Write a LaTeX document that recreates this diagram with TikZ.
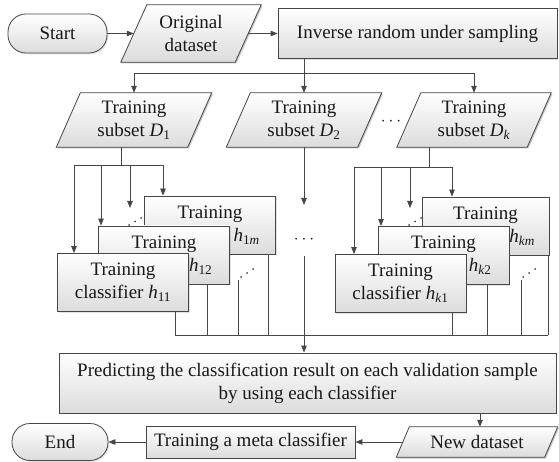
\documentclass[tikz,border=0pt]{standalone}
\usepackage{fontspec}
\setmainfont{Liberation Serif}
\usetikzlibrary{arrows.meta,calc,shadows}
\pgfdeclarelayer{bg}
\pgfsetlayers{bg,main}
\definecolor{lc}{RGB}{70,70,70}
\definecolor{fb}{RGB}{220,220,220}
\newcommand{\paral}[2]{%
  \begin{pgfonlayer}{bg}
  \fill[black,opacity=0.22] ([xshift=#2/2+1.3pt,yshift=-1.3pt]#1.north west) -- ([xshift=#2/2+1.3pt,yshift=-1.3pt]#1.north east) -- ([xshift=-#2/2+1.3pt,yshift=-1.3pt]#1.south east) -- ([xshift=-#2/2+1.3pt,yshift=-1.3pt]#1.south west) -- cycle;
  \shadedraw[top color=white,bottom color=fb,draw=lc,line width=0.8pt] ([xshift=#2/2]#1.north west) -- ([xshift=#2/2]#1.north east) -- ([xshift=-#2/2]#1.south east) -- ([xshift=-#2/2]#1.south west) -- cycle;
  \end{pgfonlayer}}
\begin{document}
\begin{tikzpicture}[x=1pt,y=-1pt,
  base/.style={font=\fontsize{19}{23}\selectfont, align=center, inner sep=0pt, text=black!90},
  box/.style={base, draw=lc, line width=0.8pt, top color=white, bottom color=fb,
     drop shadow={shadow xshift=1.3pt, shadow yshift=-1.3pt, opacity=0.22}},
  term/.style={box, rounded corners=18pt},
  para/.style={base},
  cls/.style={box, minimum width=131pt, minimum height=58pt},
  ln/.style={draw=lc, line width=0.8pt},
  arr/.style={ln, -{Triangle[length=7pt,width=5.5pt]}}]
\useasboundingbox (0,0) rectangle (559,462);

% top row
\node[term, minimum width=99pt, minimum height=39pt] (start) at (57.5,33.5) {Start};
\node[para, minimum width=114pt, minimum height=57pt] (orig) at (191,33.5) {Original\\dataset};
\node[box, minimum width=279pt, minimum height=50pt] (irus) at (417.5,33.5) {Inverse random under sampling};
\paral{orig}{26}

% subsets
\node[para, minimum width=131pt, minimum height=54pt] (d1) at (134,120) {Training\\subset \textit{D}\textsubscript{1}};
\node[para, minimum width=131pt, minimum height=54pt] (d2) at (304,120) {Training\\subset \textit{D}\textsubscript{2}};
\node[para, minimum width=130pt, minimum height=54pt] (dk) at (474,120) {Training\\subset \textit{D}\textsubscript{\textit{k}}};
\paral{d1}{24}
\paral{d2}{24}
\paral{dk}{24}
\node[base] (ddots) at (391,122) {$\cdots$};

% classifiers group 1 (back ones show only their visible text)
\node[cls] (h1m) at (210,225) {Training\\\phantom{classifier }\textit{h}\textsubscript{1\textit{m}}};
\node[cls] (h12) at (164,255) {Training\\\phantom{classifier }\textit{h}\textsubscript{12}};
\node[cls] (h11) at (123,282.5) {Training\\classifier \textit{h}\textsubscript{11}};
% classifiers group k
\node[cls, minimum width=127pt] (hkm) at (485.5,226) {Training\\\phantom{classifier }\textit{h}\textsubscript{\textit{km}}};
\node[cls] (hk2) at (443.5,255.5) {Training\\\phantom{classifier }\textit{h}\textsubscript{\textit{k}2}};
\node[cls] (hk1) at (400.5,283.5) {Training\\classifier \textit{h}\textsubscript{\textit{k}1}};

% bottom
\node[box, minimum width=497pt, minimum height=60pt] (pred) at (307.5,383) {Predicting the classification result on each validation sample\\by using each classifier};
\node[term, minimum width=96pt, minimum height=37pt] (end) at (60,442) {End};
\node[box, minimum width=209pt, minimum height=32pt] (meta) at (250.5,442) {Training a meta classifier};
\node[para, minimum width=148pt, minimum height=30pt] (nd) at (477,442) {New dataset};
\paral{nd}{13}

% connectors top
\draw[arr] (start) -- (orig);
\draw[arr] (orig) -- (irus);
\coordinate (br) at (0,73);
\draw[arr] (irus.south -| d2.north) -- (d2.north);
\draw[ln] (d1.north |- br) -- (dk.north |- br);
\draw[arr] (d1.north |- br) -- (d1.north);
\draw[arr] (dk.north |- br) -- (dk.north);

% group 1 fan-out
\coordinate (b1) at (121,165);
\coordinate (a11) at (74,165);
\coordinate (a12) at (101,165);
\coordinate (a13) at (130,165);
\coordinate (a1m) at (163,165);
\coordinate (e13) at (130,208);
\draw[ln] (b1 |- d1.south) -- (b1);
\draw[ln] (a11) -- (a1m);
\draw[arr] (a11) -- (a11 |- h11.north);
\draw[arr] (a12) -- (a12 |- h12.north);
\draw[arr] (a13) -- (e13);
\draw[arr] (a1m) -- (a1m |- h1m.north);
\fill[lc] (129,225) circle (1pt) (135,221.5) circle (1pt) (141,218) circle (1pt);
\fill[lc] (241,277) circle (1pt) (247,273) circle (1pt) (253,269) circle (1pt);

% group k fan-out
\coordinate (bk) at (429,167);
\coordinate (ak1) at (354,167);
\coordinate (ak2) at (381,167);
\coordinate (ak3) at (410,167);
\coordinate (akm) at (452,167);
\coordinate (ek3) at (410,208);
\draw[ln] (bk |- dk.south) -- (bk);
\draw[ln] (ak1) -- (akm);
\draw[arr] (ak1) -- (ak1 |- hk1.north);
\draw[arr] (ak2) -- (ak2 |- hk2.north);
\draw[arr] (ak3) -- (ek3);
\draw[arr] (akm) -- (akm |- hkm.north);
\fill[lc] (409,225) circle (1pt) (415,221.5) circle (1pt) (421,218) circle (1pt);
\fill[lc] (523,277) circle (1pt) (529,273) circle (1pt) (535,269) circle (1pt);

% D2 path
\coordinate (e2) at (304,205);
\node[base] (d2dots) at (304,240) {$\cdots$};
\coordinate (s2) at (304,256);
\draw[arr] (d2.south) -- (e2);
\draw[arr] (s2) -- (s2 |- pred.north);

% fan-in
\coordinate (c11) at (175,335);
\coordinate (c12) at (207,335);
\coordinate (c13) at (238,335);
\coordinate (c1m) at (268,335);
\coordinate (s13) at (238,280);
\coordinate (ck1) at (452,335);
\coordinate (ck2) at (487,335);
\coordinate (ck3) at (521,335);
\coordinate (ckm) at (548,335);
\coordinate (sk3) at (521,280);
\draw[ln] (c11 |- h11.south) -- (c11);
\draw[ln] (c12 |- h12.south) -- (c12);
\draw[ln] (s13) -- (c13);
\draw[ln] (c1m |- h1m.south) -- (c1m);
\draw[ln] (ck1 |- hk1.south) -- (ck1);
\draw[ln] (ck2 |- hk2.south) -- (ck2);
\draw[ln] (sk3) -- (ck3);
\draw[ln] (ckm |- hkm.south) -- (ckm);
\draw[ln] (c11) -- (ckm);

% bottom connectors
\coordinate (pn) at (480,0);
\draw[arr] (pn |- pred.south) -- (pn |- nd.north);
\draw[arr] (nd) -- (meta);
\draw[arr] (meta) -- (end);
\end{tikzpicture}
\end{document}
